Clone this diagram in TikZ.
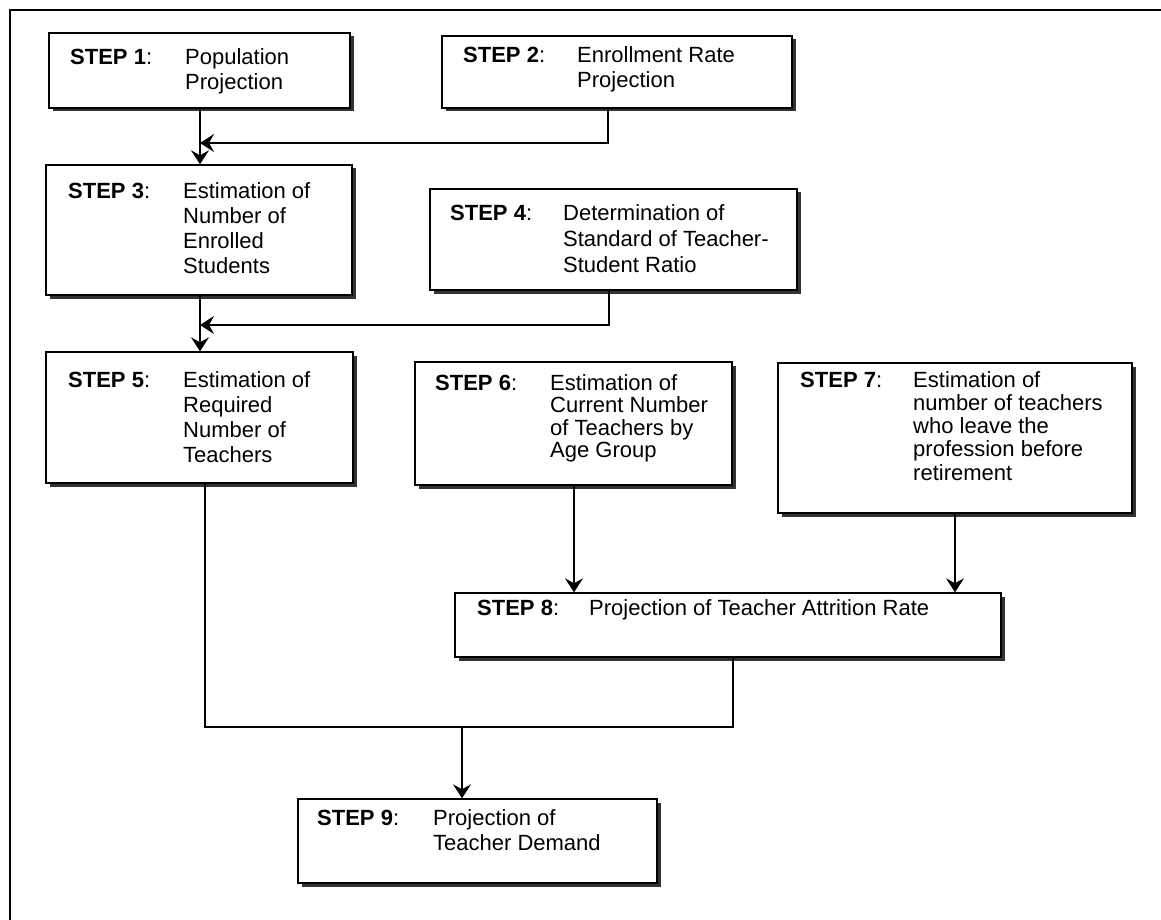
\documentclass[tikz,border=0pt]{standalone}
\usepackage{fontspec}
\setmainfont{Liberation Sans}
\usetikzlibrary{arrows.meta,shadows}
\tikzset{
 box/.style={rectangle, draw=black, line width=1.4pt, fill=white, inner sep=0pt,
   drop shadow={shadow xshift=3.5pt, shadow yshift=-3.5pt, fill=black!80, opacity=1}},
 lbl/.style={inner sep=0pt, font=\fontsize{22}{25}\selectfont, anchor=base west},
 conn/.style={line width=1.3pt},
 arr/.style={conn, -{Stealth[length=14pt, width=18pt, inset=5pt]}},
 frameline/.style={line width=1.5pt}
}
\newcommand\lines[1]{\begin{tabular}[t]{@{}l@{}}#1\end{tabular}}
\begin{document}
\begin{tikzpicture}[x=1pt,y=-1pt]
\useasboundingbox (0,0) rectangle (1161,920);
\draw[frameline] (1161,10) -- (10,10) -- (10,920);

% boxes
\node[box, minimum width=301pt, minimum height=75pt] (s1) at (199.5,70.5) {};
\node[box, minimum width=350pt, minimum height=72pt] (s2) at (617,72) {};
\node[box, minimum width=306pt, minimum height=130pt] (s3) at (199,230) {};
\node[box, minimum width=367pt, minimum height=101pt] (s4) at (613.5,239.5) {};
\node[box, minimum width=307pt, minimum height=131pt] (s5) at (199.5,417.5) {};
\node[box, minimum width=317pt, minimum height=123pt] (s6) at (573.5,423.5) {};
\node[box, minimum width=354pt, minimum height=150pt] (s7) at (955,438) {};
\node[box, minimum width=546pt, minimum height=64pt] (s8) at (728,625) {};
\node[box, minimum width=359pt, minimum height=84pt] (s9) at (477.5,841) {};

% texts
\node[lbl] (t1a) at (70,65) {\textbf{STEP 1}:};
\node[lbl] (t1b) at (185,65) {\lines{Population\\Projection}};
\node[lbl] (t2a) at (463,63) {\textbf{STEP 2}:};
\node[lbl] (t2b) at (577,63) {\lines{Enrollment Rate\\Projection}};
\node[lbl] (t3a) at (68,198) {\textbf{STEP 3}:};
\node[lbl] (t3b) at (183,198) {\lines{Estimation of\\Number of\\Enrolled\\Students}};
\node[lbl] (t4a) at (450,220) {\textbf{STEP 4}:};
\node[lbl, font=\fontsize{22}{26}\selectfont] (t4b) at (563,220) {\lines{Determination of\\Standard of Teacher-\\Student Ratio}};
\node[lbl] (t5a) at (68,387) {\textbf{STEP 5}:};
\node[lbl] (t5b) at (183,387) {\lines{Estimation of\\Required\\Number of\\Teachers}};
\node[lbl] (t6a) at (435,390) {\textbf{STEP 6}:};
\node[lbl, font=\fontsize{22}{22}\selectfont] (t6b) at (550,390) {\lines{Estimation of\\Current Number\\of Teachers by\\Age Group}};
\node[lbl] (t7a) at (800,387) {\textbf{STEP 7}:};
\node[lbl, font=\fontsize{22}{23.3}\selectfont] (t7b) at (913,387) {\lines{Estimation of\\number of teachers\\who leave the\\profession before\\retirement}};
\node[lbl] (t8a) at (477,615) {\textbf{STEP 8}:};
\node[lbl] (t8b) at (589,615) {Projection of Teacher Attrition Rate};
\node[lbl] (t9a) at (317,825) {\textbf{STEP 9}:};
\node[lbl] (t9b) at (433,825) {\lines{Projection of\\Teacher Demand}};

% connectors
\coordinate (j1) at (200,143);
\coordinate (c2) at (608,143);
\coordinate (j2) at (200,325);
\coordinate (c4) at (609,325);
\coordinate (c6) at (574,540);
\coordinate (c7) at (955,540);
\coordinate (c5) at (205,727);
\coordinate (c8) at (733,727);
\coordinate (j3) at (462,727);

\draw[arr] (s1.south -| j1) -- (s3.north -| j1);
\draw[arr] (s2.south -| c2) -- (c2) -- (j1);
\draw[arr] (s3.south -| j2) -- (s5.north -| j2);
\draw[arr] (s4.south -| c4) -- (c4) -- (j2);
\draw[arr] (s6.south -| c6) -- (s8.north -| c6);
\draw[arr] (s7.south -| c7) -- (s8.north -| c7);
\draw[conn] (s5.south -| c5) -- (c5) -- (c8) -- (s8.south -| c8);
\draw[arr] (j3) -- (s9.north -| j3);
\end{tikzpicture}
\end{document}
